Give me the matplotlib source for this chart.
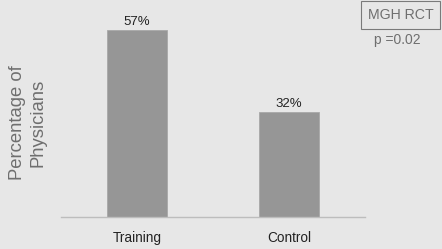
import matplotlib.pyplot as plt

groups = ['Training', 'Control']
pct = [57, 32]
labels = ['57%', '32%']

bg = '#e7e7e7'
plt.rcParams['font.family'] = ['Liberation Sans', 'DejaVu Sans']

fig = plt.figure(figsize=(4.42, 2.49), dpi=100, facecolor=bg)
W, H = 442.0, 249.0
# axes in pixel coords: x 61..365, y 0..217 (from top)
ax = fig.add_axes([61/W, (H-217)/H, 304/W, 217/H], facecolor=bg)

x = range(len(groups))
ax.bar(x, pct, width=0.395, color='#969696', edgecolor='#a8a8a8', linewidth=0.6)
for xi, v, s in zip(x, pct, labels):
    ax.text(xi, v + 0.4, s, ha='center', va='bottom', fontsize=9.5, color='#222222')

ax.set_xlim(-0.5, 1.5)
ax.set_ylim(0, 66)
ax.set_xticks(list(x))
ax.set_xticklabels(groups, fontsize=9.8, color='#222222')
ax.tick_params(axis='x', length=0, pad=10)
ax.set_yticks([])
for s in ['top', 'right', 'left']:
    ax.spines[s].set_visible(False)
ax.spines['bottom'].set_color('#bdbdbd')
ax.spines['bottom'].set_linewidth(1.0)

fig.text(28/W, 1 - 123/H, 'Percentage of\nPhysicians', rotation=90, ha='center', va='center',
         multialignment='center', fontsize=13.3, color='#6f6f6f', linespacing=1.25)

fig.text(400.5/W, 1 - 15/H, 'MGH RCT', ha='center', va='center', fontsize=10.2, color='#6f6f6f',
         bbox=dict(boxstyle='square,pad=0.48', facecolor=bg, edgecolor='#7a7a7a', linewidth=0.8))
fig.text(397/W, 1 - 40/H, 'p =0.02', ha='center', va='center', fontsize=10, color='#6f6f6f')

fig.savefig('out.png', dpi=100, facecolor=bg)
